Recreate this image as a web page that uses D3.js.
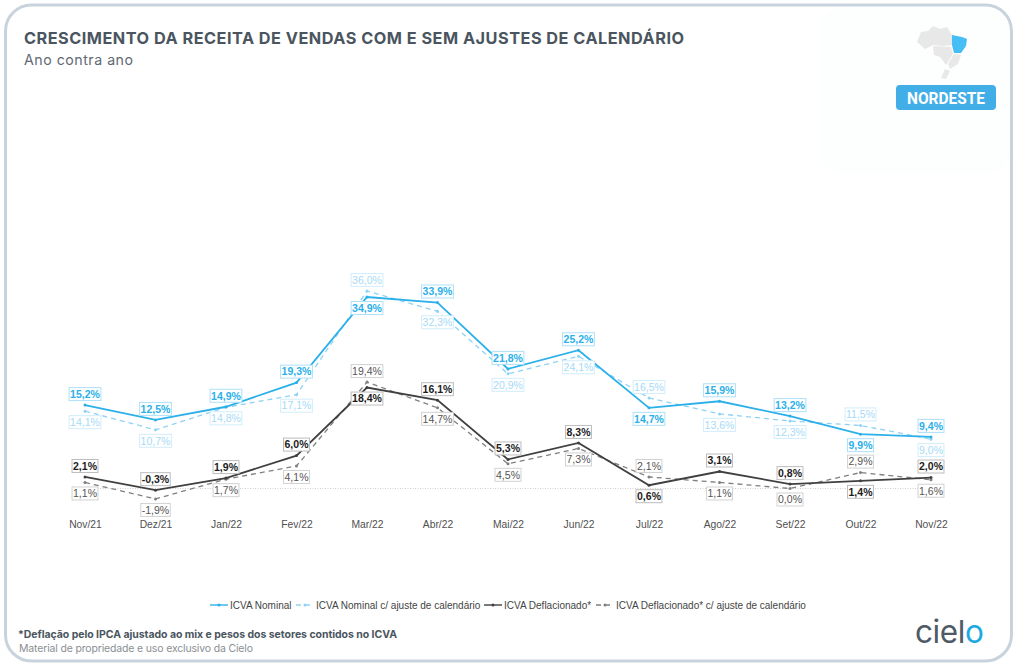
<!DOCTYPE html>
<html>
<head>
<meta charset="utf-8">
<script src="https://cdn.jsdelivr.net/npm/d3@7"></script>
<style>
	html, body { margin: 0; padding: 0; background: #fff; }
	svg { display: block; }
</style>
</head>
<body>
<div id="chart"></div>
<script>
var months = ["Nov/21", "Dez/21", "Jan/22", "Fev/22", "Mar/22", "Abr/22", "Mai/22", "Jun/22", "Jul/22", "Ago/22", "Set/22", "Out/22", "Nov/22"];

var nominal = [15.2, 12.5, 14.9, 19.3, 34.9, 33.9, 21.8, 25.2, 14.7, 15.9, 13.2, 9.9, 9.4];
var nominalAjuste = [14.1, 10.7, 14.8, 17.1, 36.0, 32.3, 20.9, 24.1, 16.5, 13.6, 12.3, 11.5, 9.0];
var deflacionado = [2.1, -0.3, 1.9, 6.0, 18.4, 16.1, 5.3, 8.3, 0.6, 3.1, 0.8, 1.4, 2.0];
var deflacionadoAjuste = [1.1, -1.9, 1.7, 4.1, 19.4, 14.7, 4.5, 7.3, 2.1, 1.1, 0.0, 2.9, 1.6];

// which side of the point each label sits on: -1 above, 1 below
var nominalSide = [-1, -1, -1, -1, 1, -1, -1, -1, 1, -1, -1, 1, -1];
var nominalAjusteSide = [1, 1, 1, 1, -1, 1, 1, 1, -1, 1, 1, -1, 1];
var deflacionadoSide = [-1, -1, -1, -1, 1, -1, -1, -1, 1, -1, -1, 1, -1];
var deflacionadoAjusteSide = [1, 1, 1, 1, -1, 1, 1, 1, -1, 1, 1, -1, 1];

var legendNames = ["ICVA Nominal", "ICVA Nominal c/ ajuste de calendário", "ICVA Deflacionado*", "ICVA Deflacionado* c/ ajuste de calendário"];

var width = 1017, height = 669;

var series = [
	{ values: deflacionadoAjuste, side: deflacionadoAjusteSide, color: "#7f7f7f", width: 1.3, dash: "5,4", text: "#555", box: "#d2d2d2", weight: 400 },
	{ values: deflacionado, side: deflacionadoSide, color: "#404040", width: 1.8, dash: null, text: "#1c1c1c", box: "#bdbdbd", weight: 700 },
	{ values: nominalAjuste, side: nominalAjusteSide, color: "#8ed2f6", width: 1.3, dash: "5,4", text: "#a6daf7", box: "#d2edfb", weight: 400 },
	{ values: nominal, side: nominalSide, color: "#2bb0ea", width: 1.8, dash: null, text: "#2bb0ea", box: "#aee0f8", weight: 700 }
];

var svg = d3.select("#chart").append("svg")
	.attr("width", width)
	.attr("height", height);

var defs = svg.append("defs");
var logoGrad = defs.append("linearGradient").attr("id", "logoO");
logoGrad.append("stop").attr("offset", "0.35").attr("stop-color", "#4e5a66");
logoGrad.append("stop").attr("offset", "0.75").attr("stop-color", "#1fa9e0");

// faint panel behind the region badge, then the card frame
svg.append("rect")
	.attr("x", 820).attr("y", 6)
	.attr("width", 190).attr("height", 168)
	.attr("rx", 24)
	.attr("fill", "#fdfefe");

svg.append("rect")
	.attr("x", 5.5).attr("y", 5)
	.attr("width", 1006).attr("height", 656)
	.attr("rx", 26)
	.attr("fill", "none")
	.attr("stroke", "#c9d3dd")
	.attr("stroke-width", 3);

// header
svg.append("text")
	.attr("x", 24).attr("y", 44)
	.attr("font-family", "Inter")
	.attr("font-weight", 700)
	.attr("font-size", 16.3)
	.attr("fill", "#4a5560")
	.attr("textLength", 660)
	.text("CRESCIMENTO DA RECEITA DE VENDAS COM E SEM AJUSTES DE CALENDÁRIO");

svg.append("text")
	.attr("x", 24).attr("y", 65)
	.attr("font-family", "Inter")
	.attr("font-size", 14.2)
	.attr("fill", "#5f6a74")
	.attr("textLength", 109)
	.text("Ano contra ano");

// region map, rough outlines only
var mapGrey = [
	[[917, 69], [921, 59], [928, 58], [933, 53], [940, 56], [947, 54], [952, 62], [952, 72], [943, 73], [933, 72], [925, 76]],
	[[933, 73], [951, 74], [953, 81], [946, 92], [940, 84], [934, 82]],
	[[948, 91], [954, 81], [961, 82], [958, 91], [950, 96]],
	[[941, 105], [945, 96], [950, 98], [946, 106]]
];
var mapBlue = [[952, 62], [962, 64], [967, 66], [966, 73], [961, 80], [954, 80], [952, 72]];
var mapLine = d3.line().curve(d3.curveLinearClosed);
var mapGroup = svg.append("g").attr("transform", "translate(0,-27)");
mapGroup.selectAll("path.grey").data(mapGrey).enter().append("path")
	.attr("class", "grey")
	.attr("d", mapLine)
	.attr("fill", "#e8e8e8");
mapGroup.append("path")
	.attr("d", mapLine(mapBlue))
	.attr("fill", "#45bdf5");

svg.append("rect")
	.attr("x", 896).attr("y", 85)
	.attr("width", 100).attr("height", 25)
	.attr("rx", 4)
	.attr("fill", "#42aee8");
svg.append("text")
	.attr("x", 907).attr("y", 103.5)
	.attr("font-family", "Roboto")
	.attr("font-weight", 700)
	.attr("font-size", 16)
	.attr("fill", "#fff")
	.attr("textLength", 78)
	.attr("lengthAdjust", "spacingAndGlyphs")
	.text("NORDESTE");

// scales
var x = d3.scalePoint()
	.domain(months)
	.range([85, 931]);

var y = d3.scaleLinear()
	.domain([0, 36])
	.range([488.5, 291]);

var line = d3.line()
	.x(function(d, i) { return x(months[i]); })
	.y(function(d) { return y(d); });

var xAxis = d3.axisBottom(x).tickSize(0).tickPadding(0);

var axisGroup = svg.append("g")
	.attr("transform", "translate(0,520.5)")
	.call(xAxis);
axisGroup.select(".domain").remove();
axisGroup.selectAll("text")
	.attr("font-family", "Liberation Sans")
	.attr("font-size", 10.3)
	.attr("fill", "#505050");

// zero line
svg.append("line")
	.attr("x1", x(months[0])).attr("x2", x(months[12]))
	.attr("y1", y(0)).attr("y2", y(0))
	.attr("stroke", "#c4c4c4")
	.attr("stroke-width", 0.8)
	.attr("stroke-dasharray", "1,1.5");

series.forEach(function(s) {
	svg.append("path")
		.attr("d", line(s.values))
		.attr("fill", "none")
		.attr("stroke", s.color)
		.attr("stroke-width", s.width)
		.attr("stroke-dasharray", s.dash);

	svg.selectAll(null)
		.data(s.values)
		.enter()
		.append("circle")
		.attr("cx", function(d, i) { return x(months[i]); })
		.attr("cy", function(d) { return y(d); })
		.attr("r", 1.5)
		.attr("fill", s.color);
});

// value labels go on top of all the lines
series.forEach(function(s) {
	var labels = svg.selectAll(null)
		.data(s.values)
		.enter()
		.append("g")
		.attr("transform", function(d, i) {
			return "translate(" + x(months[i]) + "," + (y(d) + s.side[i] * 11) + ")";
		});

	var boxes = labels.append("rect")
		.attr("fill", "#fff")
		.attr("stroke", s.box)
		.attr("stroke-width", 1);

	labels.append("text")
		.attr("text-anchor", "middle")
		.attr("dy", "0.36em")
		.attr("font-family", "Liberation Sans")
		.attr("font-size", 10.5)
		.attr("font-weight", s.weight)
		.attr("fill", s.text)
		.text(function(d) { return d.toFixed(1).replace(".", ",") + "%"; });

	boxes.each(function() {
		var w = this.parentNode.querySelector("text").getComputedTextLength() + 2;
		d3.select(this)
			.attr("x", -w / 2).attr("y", -6.5)
			.attr("width", w).attr("height", 13);
	});
});

// legend
var legendX = [210, 296, 484, 596];
var legendStyle = [series[3], series[2], series[1], series[0]];
var legend = svg.selectAll(".legend")
	.data(legendNames)
	.enter()
	.append("g")
	.attr("class", "legend")
	.attr("transform", function(d, i) { return "translate(" + legendX[i] + ",605)"; });

legend.append("line")
	.attr("x1", 0).attr("x2", 18)
	.attr("stroke", function(d, i) { return legendStyle[i].color; })
	.attr("stroke-width", 1.4)
	.attr("stroke-dasharray", function(d, i) { return legendStyle[i].dash; });
legend.append("circle")
	.attr("cx", 9)
	.attr("r", 1.5)
	.attr("fill", function(d, i) { return legendStyle[i].color; });
legend.append("text")
	.attr("x", 20)
	.attr("dy", "0.36em")
	.attr("font-family", "Liberation Sans")
	.attr("font-size", 10)
	.attr("fill", "#444")
	.text(function(d) { return d; });

// footer
svg.append("text")
	.attr("x", 18).attr("y", 638)
	.attr("font-family", "Inter")
	.attr("font-weight", 700)
	.attr("font-size", 10.5)
	.attr("fill", "#4a5560")
	.attr("textLength", 379)
	.text("*Deflação pelo IPCA ajustado ao mix e pesos dos setores contidos no ICVA");

svg.append("text")
	.attr("x", 19).attr("y", 652)
	.attr("font-family", "Inter")
	.attr("font-size", 10.5)
	.attr("fill", "#8a8f94")
	.attr("textLength", 234)
	.text("Material de propriedade e uso exclusivo da Cielo");

var logo = svg.append("text")
	.attr("x", 915).attr("y", 643)
	.attr("font-family", "Inter")
	.attr("font-size", 31.5)
	.attr("fill", "#4e5a66")
	.attr("textLength", 69);
logo.append("tspan").text("ciel");
logo.append("tspan").attr("fill", "url(#logoO)").text("o");
</script>
</body>
</html>
